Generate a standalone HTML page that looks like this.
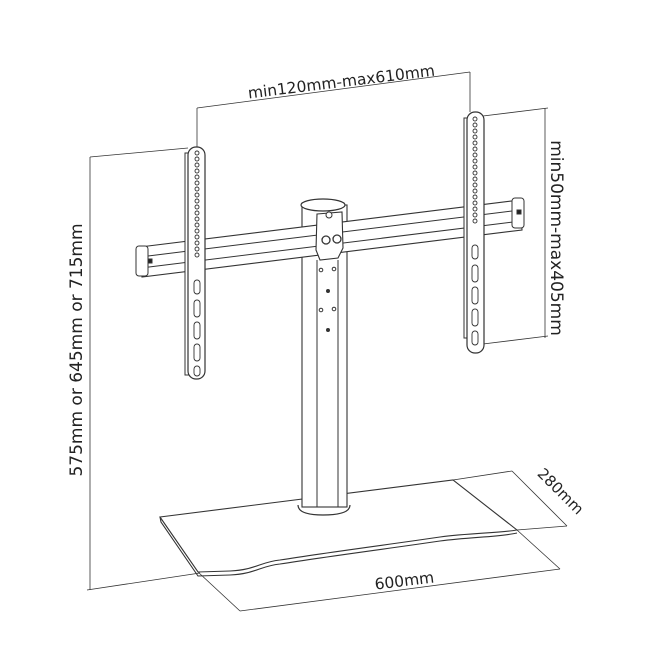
<!DOCTYPE html>
<html><head><meta charset="utf-8"><style>
html,body{margin:0;padding:0;background:#fff}
svg{display:block}
text{font-family:"DejaVu Sans","Liberation Sans",sans-serif;fill:#222}
</style></head><body>
<svg width="662" height="662" viewBox="0 0 662 662" xmlns="http://www.w3.org/2000/svg">
<g fill="none" stroke="#333" stroke-width="1">
<line x1="197" y1="108" x2="470" y2="72" stroke-width="0.8"/>
<line x1="197" y1="108" x2="197" y2="150" stroke-width="0.8"/>
<line x1="470" y1="72" x2="470" y2="112" stroke-width="0.8"/>
<line x1="545" y1="108" x2="545" y2="338" stroke-width="0.8"/>
<line x1="483" y1="116" x2="548" y2="108" stroke-width="0.8"/>
<line x1="483" y1="344" x2="548" y2="336" stroke-width="0.8"/>
<line x1="90" y1="157" x2="90" y2="590" stroke-width="0.8"/>
<line x1="90" y1="157" x2="188" y2="148" stroke-width="0.8"/>
<line x1="87" y1="590" x2="200" y2="573" stroke-width="0.8"/>
<line x1="198" y1="572" x2="240" y2="611" stroke-width="0.8"/>
<line x1="517" y1="530" x2="560" y2="569" stroke-width="0.8"/>
<line x1="240" y1="611" x2="560" y2="569" stroke-width="0.8"/>
<line x1="453" y1="480" x2="512" y2="471" stroke-width="0.8"/>
<line x1="512" y1="471" x2="567" y2="526" stroke-width="0.8"/>
<line x1="517" y1="530" x2="567" y2="526" stroke-width="0.8"/>

<path d="M160 517 L453 480 L517 530 C 500 533 470 533 440 537 C 400 543 330 552 280 560 C 260 562 255 570 230 571 L198 572 Z" fill="#fff" stroke-width="1.1"/>
<path d="M160 517 L161 522 L198 576 L230 575 C255 574 260 566 280 564 C330 556 400 547 440 541 C470 537 500 537 517 533" stroke-width="1.1"/>

<rect x="302" y="205" width="45" height="302" fill="#fff" stroke-width="1.1"/>
<line x1="317" y1="260" x2="317" y2="507"/>
<line x1="338" y1="260" x2="338" y2="507"/>
<path d="M298 505 Q298 515 323 515 Q350 515 350 505" stroke-width="1.2"/>
<ellipse cx="323" cy="205" rx="22" ry="6" fill="#fff" stroke-width="1.2"/>

<path d="M140 247 L520 200 L522 230 L142 277 Z" fill="#fff" stroke-width="1.1"/>
<line x1="140" y1="257" x2="520" y2="210"/>
<line x1="141" y1="268" x2="521" y2="221"/>
<rect x="136" y="246" width="12" height="30" rx="3" fill="#fff"/>
<rect x="512" y="198" width="12" height="30" rx="3" fill="#fff"/>
<rect x="148" y="259" width="4" height="4" fill="#222"/>
<rect x="517" y="210" width="4" height="4" fill="#222"/>

<path d="M317 214 L342 212 L343 248 L338 258 L320 260 L316 250 Z" fill="#fff" stroke-width="1.1"/>
<circle cx="329" cy="215" r="3" fill="#fff"/>
<circle cx="326" cy="240" r="4" fill="#fff" stroke-width="1.3"/>
<circle cx="337" cy="239" r="4" fill="#fff" stroke-width="1.3"/>
<circle cx="321" cy="270" r="1.8"/><circle cx="334" cy="269" r="1.8"/>
<circle cx="328" cy="291" r="1.5" fill="#333"/>
<circle cx="321" cy="310" r="1.8"/><circle cx="334" cy="309" r="1.8"/>
<circle cx="328" cy="330" r="1.5" fill="#333"/>

<rect x="185" y="153" width="5" height="222" fill="#fff"/>
<rect x="188" y="147" width="17" height="232" rx="8" fill="#fff" stroke-width="1.2"/>
<g stroke-width="0.9">
<circle cx="197" cy="153" r="2"/><circle cx="197" cy="159" r="2"/><circle cx="197" cy="165" r="2"/><circle cx="197" cy="171" r="2"/><circle cx="197" cy="177" r="2"/><circle cx="197" cy="183" r="2"/><circle cx="197" cy="189" r="2"/><circle cx="197" cy="195" r="2"/><circle cx="197" cy="201" r="2"/><circle cx="197" cy="207" r="2"/><circle cx="197" cy="213" r="2"/><circle cx="197" cy="219" r="2"/><circle cx="197" cy="225" r="2"/><circle cx="197" cy="231" r="2"/><circle cx="197" cy="237" r="2"/><circle cx="197" cy="243" r="2"/><circle cx="197" cy="249" r="2"/><circle cx="197" cy="255" r="2"/>
<rect x="194" y="280" width="6" height="14" rx="3"/>
<rect x="194" y="300" width="6" height="17" rx="3"/>
<rect x="194" y="322" width="6" height="17" rx="3"/>
<rect x="194" y="344" width="6" height="17" rx="3"/>
<rect x="194" y="366" width="6" height="10" rx="3"/>
</g>
<rect x="464" y="118" width="5" height="220" fill="#fff"/>
<rect x="467" y="112" width="17" height="241" rx="8" fill="#fff" stroke-width="1.2"/>
<g stroke-width="0.9">
<circle cx="475" cy="119" r="2"/><circle cx="475" cy="125" r="2"/><circle cx="475" cy="131" r="2"/><circle cx="475" cy="137" r="2"/><circle cx="475" cy="143" r="2"/><circle cx="475" cy="149" r="2"/><circle cx="475" cy="155" r="2"/><circle cx="475" cy="161" r="2"/><circle cx="475" cy="167" r="2"/><circle cx="475" cy="173" r="2"/><circle cx="475" cy="179" r="2"/><circle cx="475" cy="185" r="2"/><circle cx="475" cy="191" r="2"/><circle cx="475" cy="197" r="2"/><circle cx="475" cy="203" r="2"/><circle cx="475" cy="209" r="2"/><circle cx="475" cy="215" r="2"/><circle cx="475" cy="221" r="2"/>
<rect x="472" y="245" width="6" height="14" rx="3"/>
<rect x="472" y="265" width="6" height="17" rx="3"/>
<rect x="472" y="287" width="6" height="17" rx="3"/>
<rect x="472" y="309" width="6" height="17" rx="3"/>
<rect x="472" y="331" width="6" height="14" rx="3"/>
</g>
</g>

<text x="0" y="0" font-size="15.5" text-anchor="middle" transform="translate(342 87) rotate(-7)">min120mm-max610mm</text>
<text x="0" y="0" font-size="17" text-anchor="middle" transform="translate(551 238) rotate(90)">min50mm-max405mm</text>
<text x="0" y="0" font-size="17" text-anchor="middle" transform="translate(82 350) rotate(-90)">575mm or 645mm or 715mm</text>
<text x="0" y="0" font-size="15.5" text-anchor="middle" transform="translate(405 586) rotate(-7)">600mm</text>
<text x="0" y="0" font-size="15" text-anchor="middle" transform="translate(557 495) rotate(45)">280mm</text>
</svg>
</body></html>
